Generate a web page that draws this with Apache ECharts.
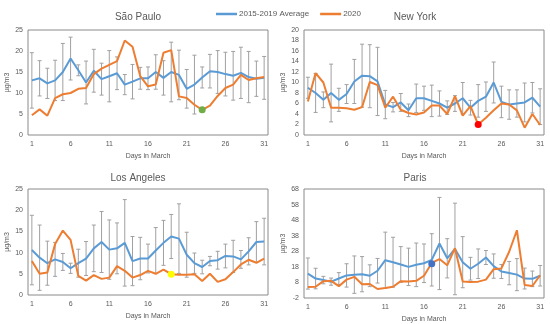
<!DOCTYPE html>
<html><head><meta charset="utf-8">
<script src="https://cdn.jsdelivr.net/npm/echarts@6/dist/echarts.min.js"></script>
<style>html,body{margin:0;padding:0;background:#fff}#c{width:550px;height:324px}</style>
</head><body><div id="c"></div>
<script>
const days = ['1','2','3','4','5','6','7','8','9','10','11','12','13','14','15','16','17','18','19','20','21','22','23','24','25','26','27','28','29','30','31'];
const legendNames = ['2015-2019 Average','2020'];
const yName = 'µg/m3';
const xName = 'Days in March';

// São Paulo
const spAvg = [13,13.5,12.3,13,15,18.2,15.4,12.5,15.3,13.3,14,14.7,12,12.7,13.5,13.5,15,13.6,15,14.3,11,12,13.7,15.2,15,14.5,14.1,14.8,13.8,13.4,13.6];
const sp2020 = [4.7,6.1,4.6,8.8,9.7,10,11,11.2,14.5,15.8,16.7,17.6,22.5,21,14,11.6,12,19.6,20.2,9.2,8.8,7.2,6,7,9.3,11.2,12,14.3,13.1,13.5,13.8];
const spErr = [6.6,4.2,3.6,4.8,6.8,5.1,1.3,5.1,5.1,3.8,6.1,3.9,2.4,4.1,2.6,2.7,4.1,4.1,7.1,5.9,4.6,7,2.5,4,5.1,5.2,5.8,6.1,6.1,4.2,5.1];
const spMark = {day: '23', value: 6};

// New York
const nyAvg = [9,8,6.7,8,6.7,7.8,10.2,11.3,11.2,10.2,5.8,5.3,6.2,4.7,7,7,6.5,6,5.2,6,7,5.2,6.5,7.3,10,6.3,5.8,6,6.2,7.1,5.4];
const ny2020 = [6.4,11.8,10,5.2,5.2,5.1,4.8,5.3,10.1,9.5,5.2,7.3,4.8,4.2,3.9,4.3,5.6,5.6,4,7.4,3.7,5.5,2,3.3,4.7,6,5.8,4.7,1.4,4,1.9];
const nyErr = [2,3.7,1.5,5.5,2.2,1.8,4.2,6,6,6.5,2.7,0.9,1.7,1.2,2.7,2.3,3,2.4,1.3,1.5,3,1.4,3.1,2.8,3.9,3,2.8,2.6,3.7,2.9,3.4];
const nyMark = {day: '23', value: 2};

// Los Angeles
const laAvg = [10.6,8.8,7.5,8.4,7.8,6.3,7.5,8.6,11,12.5,10.7,11,12.3,8,8.6,8.6,10.5,12.3,13.8,13.3,9.5,7.5,6.6,8,8.2,9.2,9.1,8.4,10.3,12.5,12.6];
const la2020 = [8,5,5.3,12,15.2,13,4.5,3.4,4.7,3.8,4.1,6.8,5.7,4.1,4.7,5.7,5,6,4.9,4.8,4.8,4.9,3.3,5,3.1,3.7,5.4,7.2,8.3,7.6,8.6];
const laErr = [8.2,7.7,5.2,4,2,1.2,3.3,4,5.5,7.2,7,6,10.2,5.8,5,3.4,5.4,5.3,5.2,8.2,5.3,2.4,1.6,1.1,2.1,2.8,3.8,2.1,3.2,4.8,5.5];
const laMark = {day: '19', value: 4.9};

// Paris
const paAvg = [13.7,10.5,9.5,8.5,10.5,12.5,13,13.3,12.3,15.5,22.3,21,19.5,18,19.3,20.3,22.5,33,23.5,29.5,21,16.8,20,24,18.5,15,14,13,10.5,10.3,12.3];
const pa2020 = [5,5.2,8.8,9,5.6,9.8,11.6,6.8,7,3.8,4.4,5.2,8.8,8.6,9,12.3,20.5,23,19,30,8.6,8.2,8.5,9.8,16.5,17,27.7,41.5,6.3,5.7,12.6];
const paErr = [10,6.6,2.4,2.3,3.8,7.5,12,11.3,7,7.9,18,16,11.5,12,14,12.4,16.8,29.6,12.6,29.4,16.4,7.3,9.5,4.5,7.8,4.5,7.5,10.3,6.7,5,6.6];
const paMark = {day: '17', value: 20};

const panels = [
  {title: 'São Paulo', avg: spAvg, cur: sp2020, err: spErr, mark: spMark, color: '#70AD47', min: 0, max: 25, step: 5,
   left: 28, top: 30, width: 240, height: 105, tx: 133, ty: 7},
  {title: 'New York', avg: nyAvg, cur: ny2020, err: nyErr, mark: nyMark, color: '#FF0000', min: 0, max: 20, step: 2,
   left: 304, top: 30, width: 240, height: 105, tx: 410, ty: 7},
  {title: 'Los Angeles', avg: laAvg, cur: la2020, err: laErr, mark: laMark, color: '#FFFF00', min: 0, max: 25, step: 5,
   left: 28, top: 189, width: 240, height: 106, tx: 133, ty: 168},
  {title: 'Paris', avg: paAvg, cur: pa2020, err: paErr, mark: paMark, color: '#4472C4', min: -2, max: 68, step: 10,
   left: 304, top: 189, width: 240, height: 110, tx: 410, ty: 168}
];

const txt = '#595959';
const option = {
  animation: false,
  backgroundColor: '#fff',
  title: panels.map(p => ({text: p.title, left: p.tx, top: p.ty, textAlign: 'center',
    textStyle: {fontFamily: 'Liberation Sans', fontSize: 10, fontWeight: 'normal', color: txt}})),
  legend: {data: legendNames, left: 211, top: 5, icon: 'rect', itemWidth: 21, itemHeight: 2.5, itemGap: 11,
    textStyle: {fontFamily: 'Liberation Sans', fontSize: 8, color: txt, padding: [0,0,0,-3]}},
  grid: panels.map(p => ({left: p.left, top: p.top, width: p.width, height: p.height, show: true,
    borderColor: '#8a8a8a', borderWidth: 1, backgroundColor: 'transparent'})),
  xAxis: panels.map((p, i) => ({type: 'category', gridIndex: i, data: days, boundaryGap: true,
    axisLine: {show: false}, axisTick: {show: false},
    axisLabel: {interval: 4, fontSize: 7, color: txt, margin: 6, fontFamily: 'Liberation Sans'},
    name: xName, nameLocation: 'middle', nameGap: 18,
    nameTextStyle: {fontSize: 7, color: txt, fontFamily: 'Liberation Sans'}})),
  yAxis: panels.map((p, i) => ({type: 'value', gridIndex: i, min: p.min, max: p.max, interval: p.step,
    splitLine: {show: false}, axisLine: {show: false}, axisTick: {show: false},
    axisLabel: {fontSize: 7, color: txt, margin: 5, fontFamily: 'Liberation Sans'},
    name: yName, nameLocation: 'middle', nameGap: 17, nameRotate: 90,
    nameTextStyle: {fontSize: 7, color: txt, fontFamily: 'Liberation Sans'}})),
  series: []
};

panels.forEach((p, i) => {
  option.series.push({
    type: 'custom', xAxisIndex: i, yAxisIndex: i, silent: true, z: 1,
    data: p.avg.map((v, k) => [k, v - p.err[k], v + p.err[k]]),
    renderItem: function (params, api) {
      const a = api.coord([api.value(0), api.value(2)]);
      const b = api.coord([api.value(0), api.value(1)]);
      const st = {stroke: '#a0a0a0', lineWidth: 1};
      const w = 2;
      return {type: 'group', children: [
        {type: 'line', shape: {x1: a[0], y1: a[1], x2: b[0], y2: b[1]}, style: st},
        {type: 'line', shape: {x1: a[0]-w, y1: a[1], x2: a[0]+w, y2: a[1]}, style: st},
        {type: 'line', shape: {x1: b[0]-w, y1: b[1], x2: b[0]+w, y2: b[1]}, style: st}
      ]};
    }
  });
  option.series.push({
    name: legendNames[0], type: 'line', xAxisIndex: i, yAxisIndex: i, data: p.avg, z: 2,
    showSymbol: false, symbol: 'none', lineStyle: {color: '#5B9BD5', width: 2}, itemStyle: {color: '#5B9BD5'}
  });
  option.series.push({
    name: legendNames[1], type: 'line', xAxisIndex: i, yAxisIndex: i, data: p.cur, z: 3,
    showSymbol: false, symbol: 'none', lineStyle: {color: '#ED7D31', width: 2}, itemStyle: {color: '#ED7D31'}
  });
  option.series.push({
    type: 'scatter', xAxisIndex: i, yAxisIndex: i, z: 4, symbolSize: 7,
    data: [[p.mark.day, p.mark.value]], itemStyle: {color: p.color, opacity: 1}
  });
});

const chart = echarts.init(document.getElementById('c'), null, {renderer: 'canvas'});
chart.setOption(option);
</script>
</body></html>
